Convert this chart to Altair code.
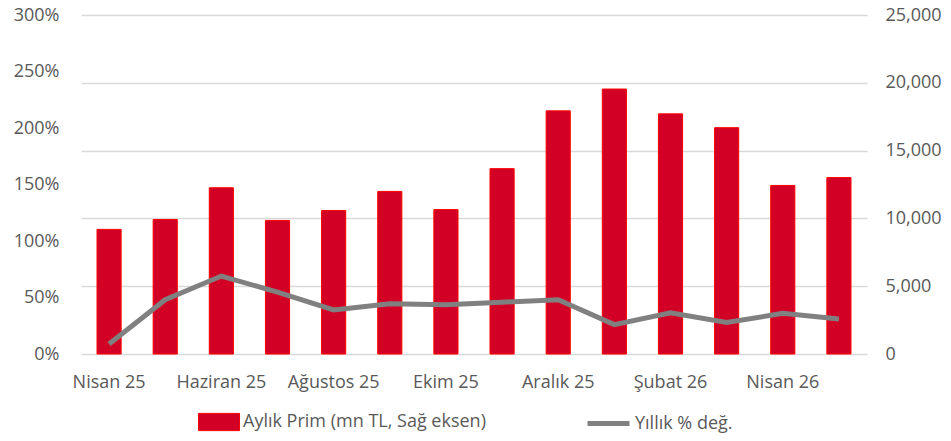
import altair as alt
import pandas as pd

months = ["Nisan 25", "Mayıs 25", "Haziran 25", "Temmuz 25", "Ağustos 25", "Eylül 25",
          "Ekim 25", "Kasım 25", "Aralık 25", "Ocak 26", "Şubat 26", "Mart 26",
          "Nisan 26", "Mayıs 26"]
prim = [9190, 9920, 12260, 9850, 10580, 11990, 10650, 13670, 17930, 19540, 17710, 16690, 12430, 13010]
yillik = [8.8, 48, 69, 54.7, 39, 44.5, 43.6, 45.9, 48, 26, 36.5, 27.8, 36, 31]
left_ticks = [0, 50, 100, 150, 200, 250, 300]
right_ticks = [0, 5000, 10000, 15000, 20000, 25000]

bar_name = "Aylık Prim (mn TL, Sağ eksen)"
line_name = "Yıllık % değ."

df = pd.DataFrame({"ay": months, "prim": prim, "yillik": yillik,
                   "s1": bar_name, "s2": line_name})

FONT = "Open Sans"
TXT = "#595959"

x = alt.X("ay:N", sort=months, title=None,
          scale=alt.Scale(paddingInner=0.57, paddingOuter=0.285),
          axis=alt.Axis(values=months[::2], labelAngle=0, ticks=False, domain=False,
                        grid=False, labelPadding=19, labelFontSize=18, labelColor=TXT,
                        labelFont=FONT))

bars = alt.Chart(df).mark_bar(color="#D10024", stroke="#FF0000", strokeWidth=1).encode(
    x=x,
    y=alt.Y("prim:Q", title=None,
            scale=alt.Scale(domain=[0, 25000], nice=False),
            axis=alt.Axis(orient="right", values=right_ticks,
                          labelExpr="format(datum.value, ',')", ticks=False, domain=False,
                          grid=True, gridColor="#D9D9D9", gridWidth=1.5, labelPadding=18,
                          labelFontSize=18, labelColor=TXT, labelFont=FONT)),
    fill=alt.Fill("s1:N", scale=alt.Scale(domain=[bar_name], range=["#D10024"]),
                  legend=alt.Legend(title=None, orient="none", legendX=117, legendY=386,
                                    symbolType="M-1,-0.42H1V0.42H-1Z", symbolSize=1681,
                                    symbolStrokeColor="#FF0000", symbolStrokeWidth=1,
                                    labelFontSize=18, labelColor=TXT, labelFont=FONT,
                                    labelOffset=3, labelLimit=400, padding=0)),
)

line = alt.Chart(df).mark_line(color="#808080", strokeWidth=5).encode(
    x=x,
    y=alt.Y("yillik:Q", title=None,
            scale=alt.Scale(domain=[0, 300], nice=False),
            axis=alt.Axis(orient="left", values=left_ticks,
                          labelExpr="datum.value + '%'", ticks=False, domain=False,
                          grid=False, labelPadding=22,
                          labelFontSize=18, labelColor=TXT, labelFont=FONT)),
    stroke=alt.Stroke("s2:N", scale=alt.Scale(domain=[line_name], range=["#808080"]),
                      legend=alt.Legend(title=None, orient="none", legendX=504, legendY=385,
                                        symbolType="stroke", symbolSize=1764,
                                        symbolStrokeWidth=5,
                                        labelFontSize=18, labelColor=TXT, labelFont=FONT,
                                        labelOffset=3, labelLimit=400, padding=0)),
)

chart = alt.layer(bars, line).resolve_scale(y="independent", fill="independent",
                                            stroke="independent").properties(
    width=786, height=339,
    background="white",
    autosize=alt.AutoSizeParams(type="none"),
    padding={"left": 73, "top": 7, "right": 76, "bottom": 79},
).configure_view(strokeWidth=0, stroke="transparent")

chart.save("out.html", embed_options={"renderer": "svg", "actions": False})
